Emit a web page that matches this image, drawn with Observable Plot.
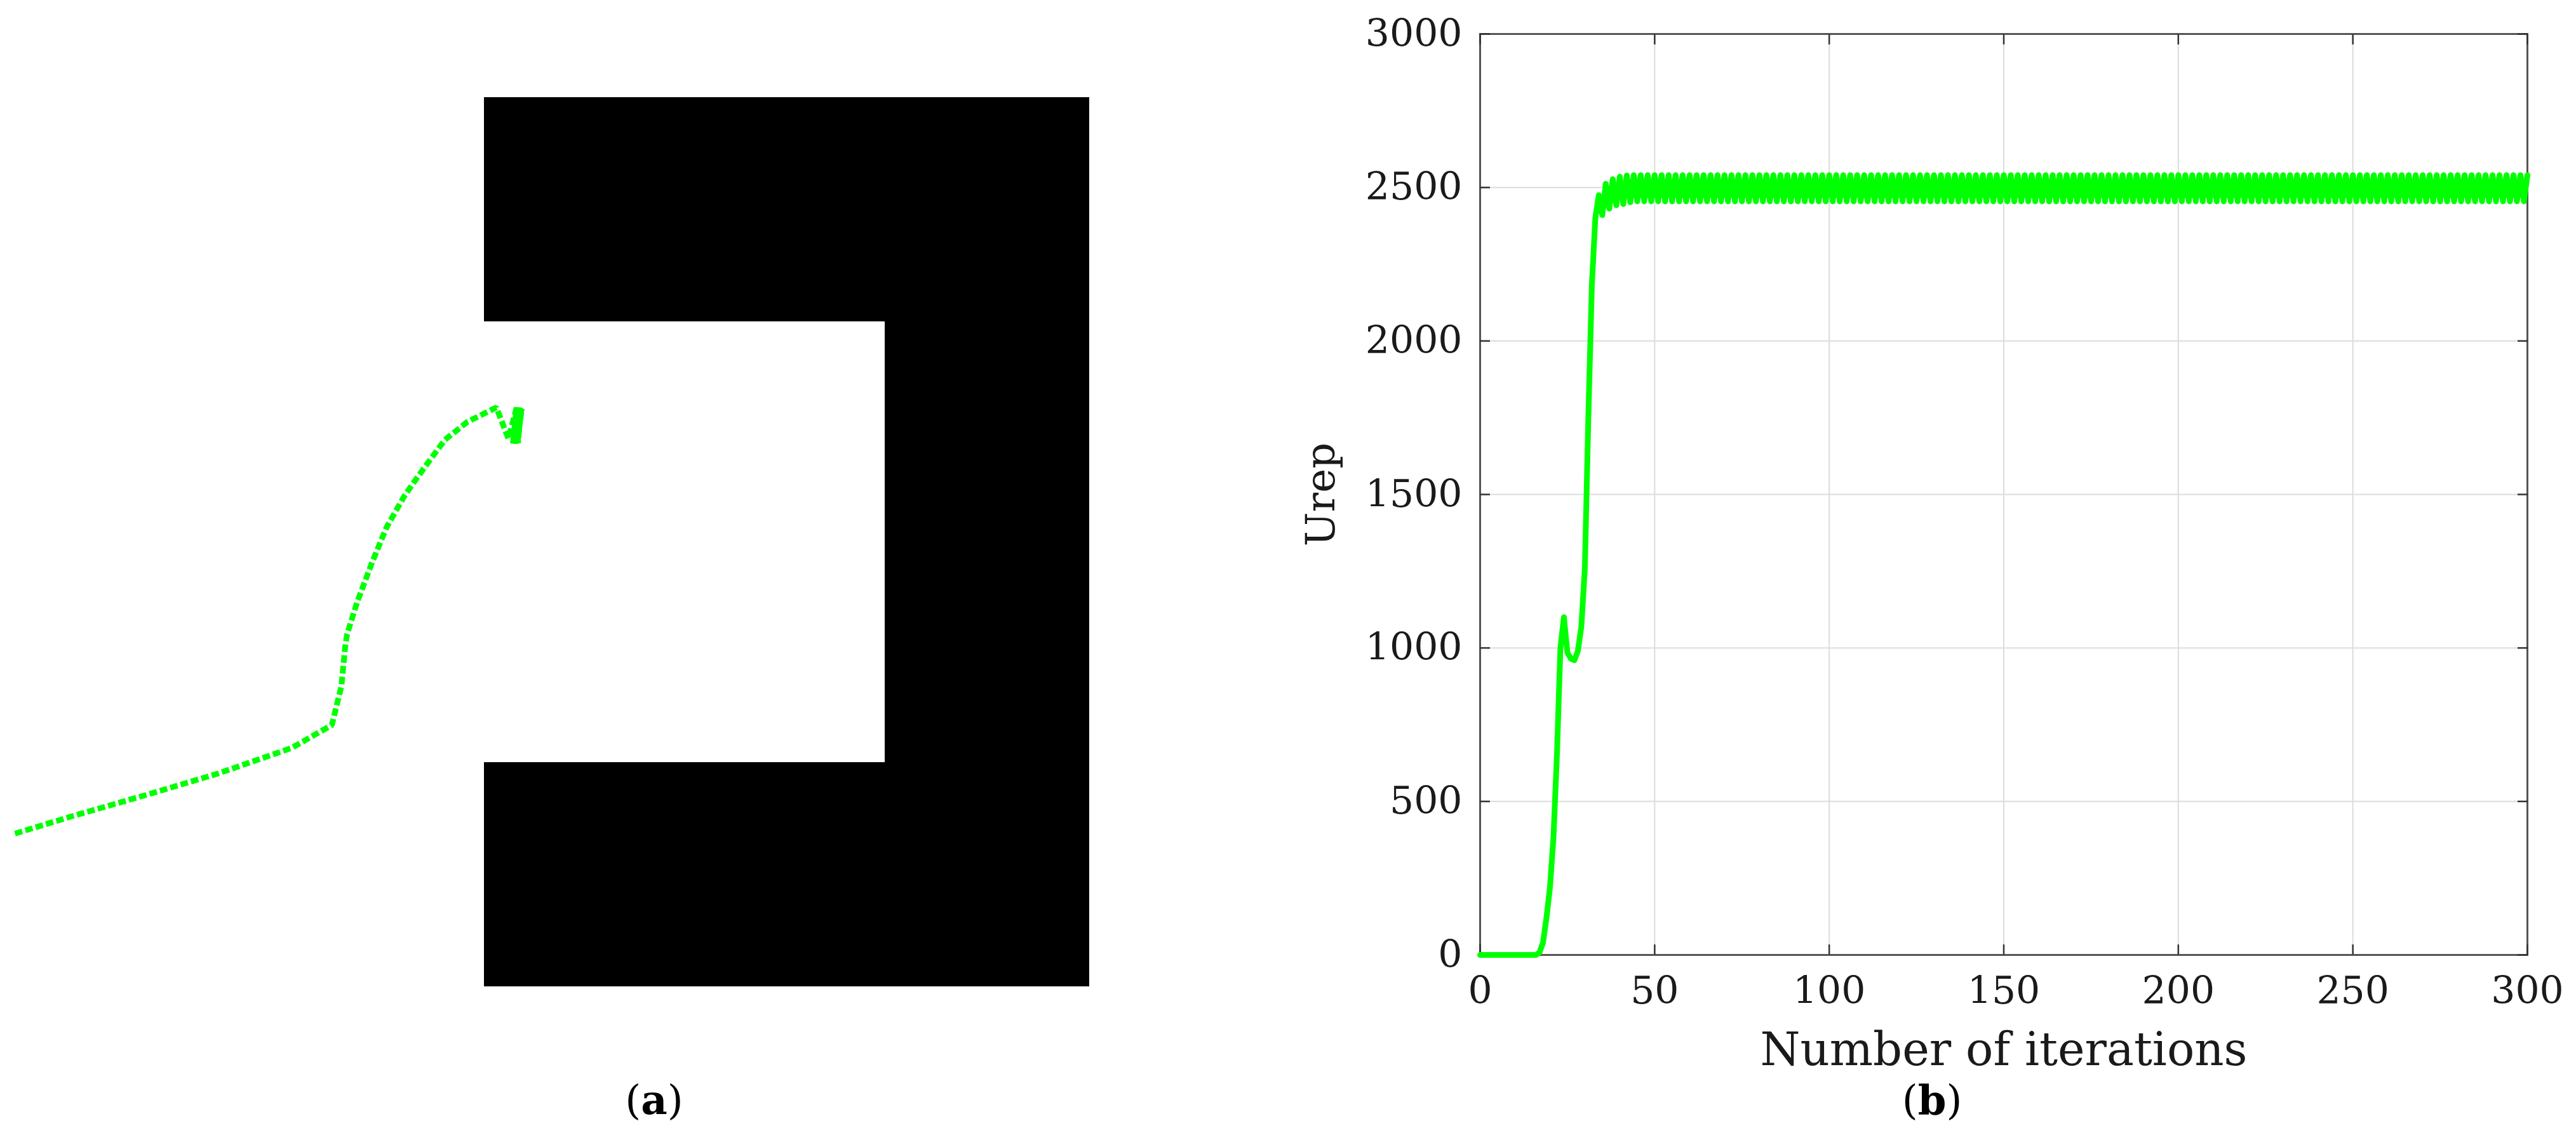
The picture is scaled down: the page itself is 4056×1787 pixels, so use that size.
<!DOCTYPE html>
<html><head><meta charset="utf-8">
<script src="https://cdn.jsdelivr.net/npm/d3@7"></script>
<script src="https://cdn.jsdelivr.net/npm/@observablehq/plot@0.6"></script>
<style>
html,body{margin:0;padding:0;background:#fff;}
body{width:4056px;height:1787px;position:relative;overflow:hidden;font-family:"DejaVu Serif",serif;}
#left{position:absolute;left:0;top:0;}
#right{position:absolute;left:2000px;top:0;}
.cap{position:absolute;top:1700px;font-size:64px;line-height:64px;color:#000;transform:translateX(-50%);white-space:nowrap;font-family:"DejaVu Serif",serif;}
</style></head><body>
<div id="left"></div><div id="right"></div>
<div class="cap" style="left:1030px">(<b>a</b>)</div>
<div class="cap" style="left:3042px">(<b>b</b>)</div>
<script>
// ---- panel (a): obstacle map (map units) ----
const obstacleX1 = [76.3, 76.3, 139.4];
const obstacleX2 = [171.4, 171.4, 171.4];
const obstacleY1 = [119.5, 14.8, 49.9];
const obstacleY2 = [154.6, 49.9, 119.5];

const pathX = [2.3, 11.5, 23.0, 34.4, 45.9, 52.2, 53.7, 54.3, 54.6, 56.2, 58.5, 60.8, 63.7, 66.6, 70.0, 73.5, 78.1, 80.0,
  81.3, 80.7, 81.5, 80.9, 81.7, 81.1, 81.9, 81.3, 82.0, 81.5, 81.6, 80.8, 81.8, 81.0, 82.1, 81.4];
const pathY = [38.8, 41.6, 44.9, 48.3, 52.3, 55.9, 62.0, 68.2, 70.2, 75.3, 81.4, 87.0, 92.1, 96.2, 100.8, 103.6, 105.9, 101.0,
  105.9, 100.2, 105.8, 100.3, 105.9, 100.2, 105.8, 100.4, 105.7, 100.3, 105.9, 100.2, 105.8, 100.4, 105.7, 100.3];

// ---- panel (b): Urep vs number of iterations ----
const xTicks = [0, 50, 100, 150, 200, 250, 300];
const yTicks = [0, 500, 1000, 1500, 2000, 2500, 3000];
const urepStart = [
  0, 0, 0, 0, 0, 0, 0, 0, 0, 0, 0, 0, 0, 0, 0, 0, 0,
  8, 40, 120, 220, 380, 650, 1000, 1100, 985, 965, 960, 990, 1070, 1260,
  1750, 2180, 2400, 2475, 2410, 2512, 2431, 2527, 2442, 2535, 2446, 2539, 2452
];
const urepSteady = [
  2540, 2455, 2540, 2455, 2540, 2455, 2540, 2455, 2540, 2455, 2540, 2455, 2540, 2455, 2540, 2455,
  2540, 2455, 2540, 2455, 2540, 2455, 2540, 2455, 2540, 2455, 2540, 2455, 2540, 2455, 2540, 2455,
  2540, 2455, 2540, 2455, 2540, 2455, 2540, 2455, 2540, 2455, 2540, 2455, 2540, 2455, 2540, 2455,
  2540, 2455, 2540, 2455, 2540, 2455, 2540, 2455, 2540, 2455, 2540, 2455, 2540, 2455, 2540, 2455,
  2540, 2455, 2540, 2455, 2540, 2455, 2540, 2455, 2540, 2455, 2540, 2455, 2540, 2455, 2540, 2455,
  2540, 2455, 2540, 2455, 2540, 2455, 2540, 2455, 2540, 2455, 2540, 2455, 2540, 2455, 2540, 2455,
  2540, 2455, 2540, 2455, 2540, 2455, 2540, 2455, 2540, 2455, 2540, 2455, 2540, 2455, 2540, 2455,
  2540, 2455, 2540, 2455, 2540, 2455, 2540, 2455, 2540, 2455, 2540, 2455, 2540, 2455, 2540, 2455,
  2540, 2455, 2540, 2455, 2540, 2455, 2540, 2455, 2540, 2455, 2540, 2455, 2540, 2455, 2540, 2455,
  2540, 2455, 2540, 2455, 2540, 2455, 2540, 2455, 2540, 2455, 2540, 2455, 2540, 2455, 2540, 2455,
  2540, 2455, 2540, 2455, 2540, 2455, 2540, 2455, 2540, 2455, 2540, 2455, 2540, 2455, 2540, 2455,
  2540, 2455, 2540, 2455, 2540, 2455, 2540, 2455, 2540, 2455, 2540, 2455, 2540, 2455, 2540, 2455,
  2540, 2455, 2540, 2455, 2540, 2455, 2540, 2455, 2540, 2455, 2540, 2455, 2540, 2455, 2540, 2455,
  2540, 2455, 2540, 2455, 2540, 2455, 2540, 2455, 2540, 2455, 2540, 2455, 2540, 2455, 2540, 2455,
  2540, 2455, 2540, 2455, 2540, 2455, 2540, 2455, 2540, 2455, 2540, 2455, 2540, 2455, 2540, 2455,
  2540, 2455, 2540, 2455, 2540, 2455, 2540, 2455, 2540, 2455, 2540, 2455, 2540, 2455, 2540, 2455,
  2540
];
const xLabel = "Number of iterations";
const yLabel = "Urep";

// ---- build panel (a) ----
const obstacles = obstacleX1.map((d, i) => ({x1: d, x2: obstacleX2[i], y1: obstacleY1[i], y2: obstacleY2[i]}));
const path = pathX.map((d, i) => ({x: d, y: pathY[i]}));

const left = Plot.plot({
  width: 1800, height: 1700,
  margin: 0,
  x: {domain: [0, 180], axis: null},
  y: {domain: [0, 170], axis: null},
  style: {background: "transparent", overflow: "visible"},
  marks: [
    Plot.rect(obstacles, {x1: "x1", x2: "x2", y1: "y1", y2: "y2", fill: "#000", stroke: "#000", strokeWidth: 2}),
    Plot.line(path, {x: "x", y: "y", stroke: "#00ff00", strokeWidth: 9, strokeDasharray: "12,5", strokeLinecap: "butt", strokeLinejoin: "miter"})
  ]
});
document.getElementById("left").appendChild(left);

// ---- build panel (b) ----
const urep = urepStart.concat(urepSteady).map((v, i) => ({it: i, u: v}));
const fs = 60;
const fmt = d3.format("d");
const right = Plot.plot({
  width: 2056, height: 1700,
  marginLeft: 330, marginRight: 77, marginTop: 53, marginBottom: 197,
  x: {domain: [0, 300]},
  y: {domain: [0, 3000]},
  style: {fontFamily: "DejaVu Serif", fontSize: fs + "px", background: "transparent", color: "#1a1a1a", overflow: "visible"},
  marks: [
    Plot.gridX(xTicks, {stroke: "#dcdcdc", strokeOpacity: 1, strokeWidth: 2}),
    Plot.gridY(yTicks, {stroke: "#dcdcdc", strokeOpacity: 1, strokeWidth: 2}),
    Plot.frame({stroke: "#555", strokeWidth: 3}),
    // inward ticks on all four sides
    Plot.axisX(xTicks, {anchor: "bottom", tickSize: 16, dy: -16, fill: "none", tickFormat: () => "", label: null, stroke: "#333", strokeWidth: 2.5}),
    Plot.axisX(xTicks, {anchor: "top", tickSize: 16, dy: 16, fill: "none", tickFormat: () => "", label: null, stroke: "#333", strokeWidth: 2.5}),
    Plot.axisY(yTicks, {anchor: "left", tickSize: 16, dx: 16, fill: "none", tickFormat: () => "", label: null, stroke: "#333", strokeWidth: 2.5}),
    Plot.axisY(yTicks, {anchor: "right", tickSize: 16, dx: -16, fill: "none", tickFormat: () => "", label: null, stroke: "#333", strokeWidth: 2.5}),
    // tick labels
    Plot.axisX(xTicks, {anchor: "bottom", tickSize: 0, tickPadding: 34, label: null, tickFormat: fmt, fontSize: fs, fill: "#1a1a1a"}),
    Plot.axisY(yTicks, {anchor: "left", tickSize: 0, tickPadding: 28, label: null, tickFormat: fmt, fontSize: fs, fill: "#1a1a1a"}),
    // axis titles
    Plot.text([xLabel], {text: d => d, frameAnchor: "bottom", dy: 150, fontSize: 72, lineAnchor: "middle", textAnchor: "middle", fill: "#1a1a1a"}),
    Plot.text([yLabel], {text: d => d, frameAnchor: "left", dx: -250, rotate: -90, fontSize: 64, lineAnchor: "middle", textAnchor: "middle", fill: "#1a1a1a"}),
    // series
    Plot.line(urep, {x: "it", y: "u", stroke: "#00ff00", strokeWidth: 9, strokeLinejoin: "round", strokeLinecap: "round"})
  ]
});
document.getElementById("right").appendChild(right);
</script>
</body></html>
